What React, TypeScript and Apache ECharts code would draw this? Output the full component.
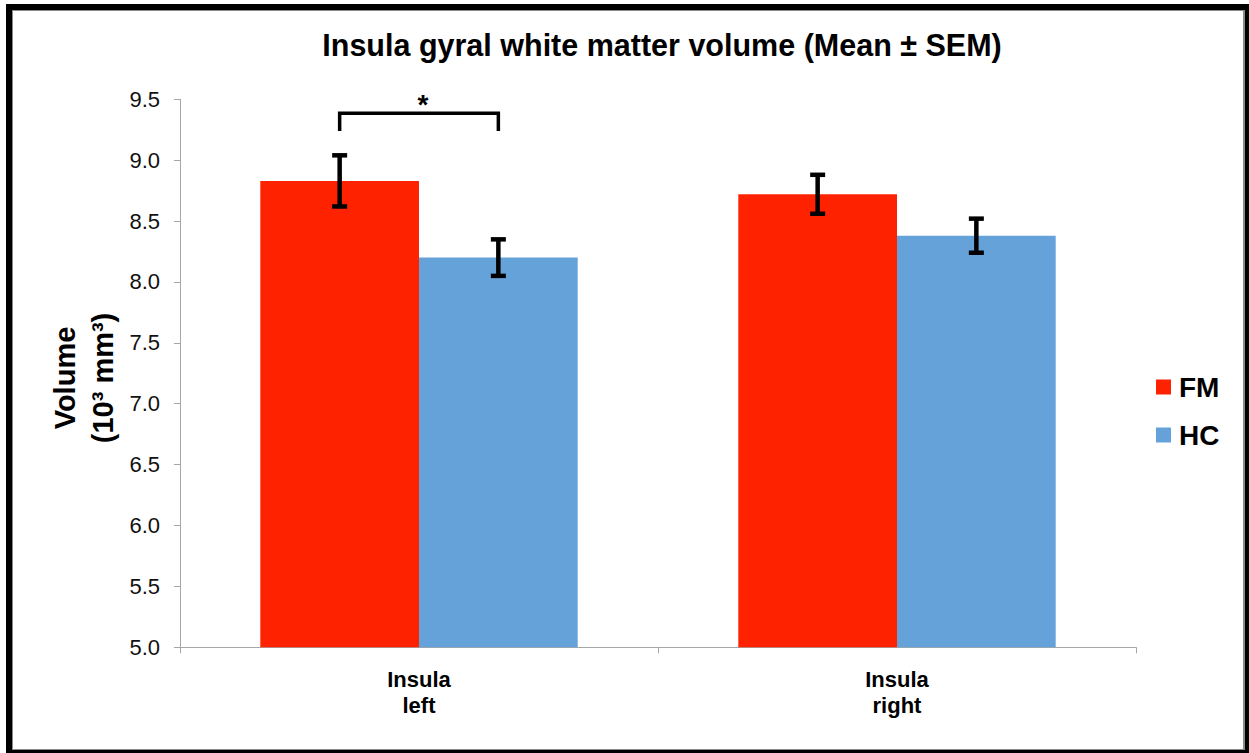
import React, { useEffect, useRef } from "react";
import * as echarts from "echarts";

const categories = ["Insula\nleft", "Insula\nright"];
const seriesNames = ["FM", "HC"];
const fmMean = [8.83, 8.72];
const fmSem = [0.21, 0.16];
const hcMean = [8.2, 8.38];
const hcSem = [0.15, 0.14];
const yTicks = { min: 5.0, max: 9.5, interval: 0.5 };
// significance bracket: category index, bracket level, leg end
const sigBrackets = [[0, 9.385, 9.24]];
const colors = ["#FF2200", "#65A2DA"];
const GAP = 0.336;

export default function App() {
  const ref = useRef<HTMLDivElement>(null);
  useEffect(() => {
    document.body.style.margin = "0";
    const chart = echarts.init(ref.current!, null, { renderer: "svg" });
    const errRender = (offsetSign: number) => (params: any, api: any) => {
      const x = api.value(0);
      const m = api.value(1);
      const s = api.value(2);
      const band = api.size([1, 0])[0];
      const barW = (band * (1 - GAP)) / 2;
      const top = api.coord([x, m + s]);
      const bot = api.coord([x, m - s]);
      const cx = top[0] + (offsetSign * barW) / 2;
      const st = { stroke: "#000", lineWidth: 4.5 };
      return {
        type: "group",
        children: [
          { type: "line", shape: { x1: cx, y1: top[1], x2: cx, y2: bot[1] }, style: st },
          { type: "line", shape: { x1: cx - 7.5, y1: top[1], x2: cx + 7.5, y2: top[1] }, style: st },
          { type: "line", shape: { x1: cx - 7.5, y1: bot[1], x2: cx + 7.5, y2: bot[1] }, style: st },
        ],
      };
    };
    chart.setOption({
      animation: false,
      graphic: [
        { type: "rect", z: -10, shape: { x: 6, y: 4, width: 1243, height: 749 }, style: { fill: "#000" } },
        { type: "rect", z: -9, shape: { x: 12, y: 10, width: 1233, height: 740 }, style: { fill: "#8a8a8a" } },
        { type: "rect", z: -8, shape: { x: 13, y: 11, width: 1230, height: 738 }, style: { fill: "#fff" } },
        {
          type: "text",
          x: 662,
          y: 45,
          style: {
            text: "Insula gyral white matter volume (Mean ± SEM)",
            font: "bold 30.5px 'Liberation Sans', Arial, sans-serif",
            fill: "#000",
            align: "center",
            verticalAlign: "middle",
          },
        },
        {
          type: "text",
          x: 84,
          y: 378,
          rotation: Math.PI / 2,
          style: {
            text: "Volume\n(10³ mm³)",
            font: "bold 29px 'Liberation Sans', Arial, sans-serif",
            fill: "#000",
            align: "center",
            verticalAlign: "middle",
            lineHeight: 38,
          },
        },
      ],
      legend: {
        orient: "vertical",
        left: 1156,
        top: 373,
        padding: 0,
        itemWidth: 15,
        itemHeight: 15,
        itemGap: 20,
        icon: "rect",
        data: seriesNames,
        textStyle: {
          fontFamily: "'Liberation Sans', Arial, sans-serif",
          fontWeight: "bold",
          fontSize: 28,
          lineHeight: 28,
          color: "#000",
          padding: [0, 0, 0, 3],
        },
      },
      grid: { left: 180, right: 113, top: 99.3, bottom: 105.7 },
      xAxis: {
        type: "category",
        data: categories,
        axisLine: { lineStyle: { color: "#a6a6a6", width: 1 } },
        axisTick: { show: true, length: 6, lineStyle: { color: "#a6a6a6" } },
        axisLabel: {
          margin: 19,
          fontFamily: "'Liberation Sans', Arial, sans-serif",
          fontWeight: "bold",
          fontSize: 22,
          lineHeight: 26,
          color: "#000",
        },
      },
      yAxis: {
        type: "value",
        min: yTicks.min,
        max: yTicks.max,
        interval: yTicks.interval,
        splitLine: { show: false },
        axisLine: { show: true, lineStyle: { color: "#a6a6a6", width: 1 } },
        axisTick: { show: true, length: 6, lineStyle: { color: "#a6a6a6" } },
        axisLabel: {
          margin: 20,
          fontFamily: "'Liberation Sans', Arial, sans-serif",
          fontSize: 22,
          color: "#111",
          formatter: (v: number) => v.toFixed(1),
        },
      },
      series: [
        {
          name: "FM",
          type: "bar",
          data: fmMean,
          barGap: "0%",
          barCategoryGap: GAP * 100 + "%",
          itemStyle: { color: colors[0] },
        },
        {
          name: "HC",
          type: "bar",
          data: hcMean,
          barGap: "0%",
          barCategoryGap: GAP * 100 + "%",
          itemStyle: { color: colors[1] },
        },
        {
          type: "custom",
          name: "FM err",
          renderItem: errRender(-1),
          data: fmMean.map((m, i) => [i, m, fmSem[i]]),
          encode: { x: 0, y: 1 },
          z: 5,
        },
        {
          type: "custom",
          name: "HC err",
          renderItem: errRender(1),
          data: hcMean.map((m, i) => [i, m, hcSem[i]]),
          encode: { x: 0, y: 1 },
          z: 5,
        },
        {
          type: "custom",
          name: "sig",
          renderItem: (params: any, api: any) => {
            const x = api.value(0);
            const lvl = api.coord([x, api.value(1)]);
            const leg = api.coord([x, api.value(2)]);
            const band = api.size([1, 0])[0];
            const barW = (band * (1 - GAP)) / 2;
            const x1 = lvl[0] - barW / 2;
            const x2 = lvl[0] + barW / 2;
            return {
              type: "group",
              children: [
                {
                  type: "polyline",
                  shape: { points: [[x1, leg[1]], [x1, lvl[1]], [x2, lvl[1]], [x2, leg[1]]] },
                  style: { stroke: "#000", lineWidth: 3.5, fill: null },
                },
                {
                  type: "text",
                  x: (x1 + x2) / 2 + 4,
                  y: lvl[1] + 5,
                  style: {
                    text: "*",
                    font: "bold 28px 'Liberation Sans', Arial, sans-serif",
                    fill: "#000",
                    align: "center",
                    verticalAlign: "bottom",
                  },
                },
              ],
            };
          },
          data: sigBrackets,
          encode: { x: 0, y: 1 },
          z: 5,
        },
      ],
    });
    return () => chart.dispose();
  }, []);
  return (
    <div
      ref={ref}
      style={{ position: "absolute", left: 0, top: 0, width: 1249, height: 753, background: "#fff" }}
    />
  );
}
